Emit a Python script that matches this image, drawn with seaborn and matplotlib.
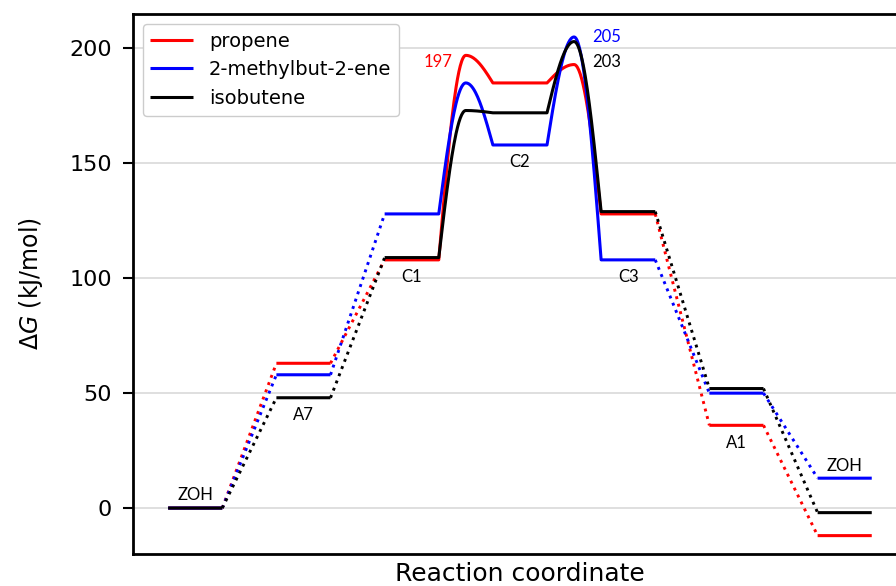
import numpy as np
import pandas as pd
import seaborn as sns
import matplotlib.pyplot as plt

# free energies (kJ/mol) of the intermediates, in reaction order
states = ["ZOH", "A7", "C1", "C2", "C3", "A1", "ZOH"]
propene = [0, 63, 108, 185, 128, 36, -12]
methylbutene = [0, 58, 128, 158, 108, 50, 13]
isobutene = [0, 48, 109, 172, 129, 52, -2]

# transition states C1->C2 and C2->C3
ts_propene = [197, 193]
ts_methylbutene = [185, 205]
ts_isobutene = [173, 203]

series = ["propene", "2-methylbut-2-ene", "isobutene"]
colors = ["red", "blue", "black"]
levels = [propene, methylbutene, isobutene]
barriers = [ts_propene, ts_methylbutene, ts_isobutene]

ts_steps = [2, 3]  # a barrier sits after state 2 and state 3


def barrier_curve(x0, e0, ts, e1, n=40):
    # quarter sine up to the TS, quarter sine down to the next state
    t = np.linspace(0, 1, n)
    xa = x0 + 0.5 * t
    ya = e0 + (ts - e0) * np.sin(np.pi / 2 * t)
    xb = x0 + 0.5 + 0.5 * t
    yb = e1 + (ts - e1) * np.cos(np.pi / 2 * t)
    return np.r_[xa, xb], np.r_[ya, yb]


sns.set_theme(style="whitegrid")
plt.rcParams["font.family"] = ["DejaVu Sans"]
plt.rcParams["text.color"] = "black"
plt.rcParams["axes.labelcolor"] = "black"
plt.rcParams["ytick.color"] = "black"

fig = plt.figure(figsize=(8.96, 5.86), dpi=100)
ax = fig.add_axes([0.1484, 0.0546, 0.8638, 0.9215])

for name, col, en, ts in zip(series, colors, levels, barriers):
    # solid path: plateaus plus the two barriers C1 -> C2 -> C3
    xs, ys = [], []
    for i, e in enumerate(en):
        xs += [2 * i, 2 * i + 1]
        ys += [e, e]
        if i in ts_steps:
            cx, cy = barrier_curve(2 * i + 1, e, ts[ts_steps.index(i)], en[i + 1])
            xs += list(cx)
            ys += list(cy)
        elif i < len(en) - 1:
            xs.append(np.nan)
            ys.append(np.nan)
    ax.plot(xs, ys, color=col, lw=2.2, label=name, solid_capstyle="butt")
    # dotted connectors between the other states
    for i in range(len(en) - 1):
        if i in ts_steps:
            continue
        dots = pd.DataFrame({"x": [2 * i + 1, 2 * i + 2], "y": [en[i], en[i + 1]]})
        sns.lineplot(data=dots, x="x", y="y", color=col, lw=2.1, ls=":",
                     sort=False, estimator=None, ax=ax)

# state labels
for i, s in enumerate(states):
    vals = [en[i] for en in levels]
    if s == "ZOH":
        y = max(vals) + 5.5
    else:
        y = min(vals) - 7.5
    ax.text(2 * i + 0.5, y, s, ha="center", va="center", fontsize=12,
            family="Lato")

# barrier heights
ax.text(5.26, ts_propene[0] - 3, str(ts_propene[0]), color="red", ha="right",
        va="center", fontsize=12, family="Lato")
ax.text(7.83, ts_methylbutene[1], str(ts_methylbutene[1]), color="blue",
        ha="left", va="center", fontsize=12, family="Lato")
ax.text(7.83, ts_isobutene[1] - 9, str(ts_isobutene[1]), color="black",
        ha="left", va="center", fontsize=12, family="Lato")

ax.set_xlim(-0.65, 13.65)
ax.set_ylim(-20, 215)
ax.set_yticks([0, 50, 100, 150, 200])
ax.set_xticks([])
ax.grid(axis="x", visible=False)
ax.grid(axis="y", color="#d9d9d9", lw=1.2)
for sp in ax.spines.values():
    sp.set_color("black")
    sp.set_linewidth(2)
ax.tick_params(axis="y", left=True, length=7, width=1.5, color="black",
               labelsize=16, pad=8)
ax.set_ylabel(r"$\Delta G$ (kJ/mol)", fontsize=17, labelpad=18)
ax.set_xlabel("Reaction coordinate", fontsize=18, labelpad=6)
ax.legend(loc="upper left", fontsize=14, handlelength=2.2, frameon=True,
          edgecolor="#cccccc", framealpha=1)

fig.savefig("out.png", dpi=100)
